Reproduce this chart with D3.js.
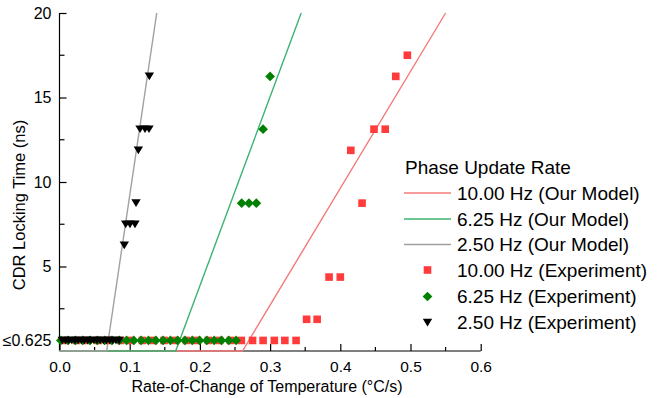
<!DOCTYPE html>
<html>
<head>
<meta charset="utf-8">
<script src="https://cdn.jsdelivr.net/npm/d3@7"></script>
<style>
  html, body { margin: 0; padding: 0; background: #fff; }
  svg { display: block; font-family: "Liberation Sans", Arial, sans-serif; }
</style>
</head>
<body>
<svg id="chart" width="659" height="398"></svg>
<script>
// ---------- data ----------
const xTickValues = [0, 0.1, 0.2, 0.3, 0.4, 0.5, 0.6];
const xTickLabels = ["0.0", "0.1", "0.2", "0.3", "0.4", "0.5", "0.6"];
const xMinorTicks = [0.05, 0.15, 0.25, 0.35, 0.45, 0.55];
const yTickValues = [0.625, 5, 10, 15, 20];
const yTickLabels = ["≤0.625", "5", "10", "15", "20"];
const yMinorTicks = [2.5, 7.5, 12.5, 17.5];

// model lines: [rate, locking time]
const model10 = [[0, 0], [0.2607, 0], [0.550, 20]];
const model625 = [[0, 0], [0.1655, 0], [0.3443, 20]];
const model250 = [[0, 0], [0.0672, 0], [0.1385, 20]];

// experiment 10.00 Hz
const exp10X = [0.008, 0.024, 0.039, 0.055, 0.071, 0.087, 0.102, 0.118, 0.134, 0.149, 0.165, 0.181,
  0.196, 0.212, 0.228, 0.2435, 0.259, 0.275, 0.290, 0.306, 0.321, 0.337,
  0.352, 0.367, 0.384, 0.400, 0.415, 0.431, 0.448, 0.464, 0.479, 0.4955];
const exp10Y = [0.625, 0.625, 0.625, 0.625, 0.625, 0.625, 0.625, 0.625, 0.625, 0.625, 0.625, 0.625,
  0.625, 0.625, 0.625, 0.625, 0.625, 0.625, 0.625, 0.625, 0.625, 0.625,
  1.875, 1.875, 4.375, 4.375, 11.875, 8.75, 13.125, 13.125, 16.25, 17.5];

// experiment 6.25 Hz
const exp625X = [0.0019, 0.0123, 0.0227, 0.0331, 0.0435, 0.0539, 0.0643, 0.0747, 0.0851,
  0.0955, 0.1059, 0.1163, 0.1267, 0.1371, 0.1475, 0.1579, 0.1683, 0.1787, 0.1891,
  0.1995, 0.2099, 0.2203, 0.2307, 0.2411, 0.2515, 0.2595, 0.2699, 0.2804, 0.290, 0.300];
const exp625Y = [0.625, 0.625, 0.625, 0.625, 0.625, 0.625, 0.625, 0.625, 0.625,
  0.625, 0.625, 0.625, 0.625, 0.625, 0.625, 0.625, 0.625, 0.625, 0.625,
  0.625, 0.625, 0.625, 0.625, 0.625, 0.625, 8.75, 8.75, 8.75, 13.125, 16.25];

// experiment 2.50 Hz
const exp250X = [0.004, 0.0085, 0.013, 0.0175, 0.022, 0.0265, 0.031, 0.0355, 0.040, 0.0445,
  0.049, 0.0535, 0.058, 0.0625, 0.067, 0.0715, 0.076, 0.0805, 0.085,
  0.0923, 0.0943, 0.1004, 0.1075, 0.109, 0.1123, 0.1147, 0.1218, 0.1275, 0.128];
const exp250Y = [0.625, 0.625, 0.625, 0.625, 0.625, 0.625, 0.625, 0.625, 0.625, 0.625,
  0.625, 0.625, 0.625, 0.625, 0.625, 0.625, 0.625, 0.625, 0.625,
  6.25, 7.5, 7.5, 7.5, 8.75, 11.875, 13.125, 13.125, 13.125, 16.25];

const legendTitle = "Phase Update Rate";
const legendLabels = ["10.00 Hz (Our Model)", "6.25 Hz (Our Model)", "2.50 Hz (Our Model)",
  "10.00 Hz (Experiment)", "6.25 Hz (Experiment)", "2.50 Hz (Experiment)"];

// ---------- styles ----------
const C = {
  red: "#f47a7a", green: "#3cb371", gray: "#a0a0a0",
  redM: "#ff3b3b", greenM: "#008000", blackM: "#000"
};

const svg = d3.select("#chart");
const x = d3.scaleLinear().domain([0, 0.6]).range([59.5, 480.7]);
const y = d3.scaleLinear().domain([0, 20]).range([351, 13]);

// ---------- axes ----------
const gx = svg.append("g").attr("transform", `translate(0,${y(0)})`)
  .call(d3.axisBottom(x).tickValues(xTickValues).tickFormat((d, i) => xTickLabels[i])
    .tickSize(-7).tickPadding(10));
gx.call(g => g.select(".domain").attr("d", `M${x(0)},0H${x(0.6)}`).attr("stroke", "#000").attr("stroke-width", 1.2));
gx.selectAll(".tick line").attr("stroke", "#000").attr("stroke-width", 1.2);
gx.selectAll("text").attr("font-size", 15.5).attr("fill", "#000").attr("font-family", "Liberation Sans, Arial, sans-serif");
svg.append("g").attr("transform", `translate(0,${y(0)})`)
  .selectAll("line").data(xMinorTicks).join("line")
  .attr("x1", d => x(d)).attr("x2", d => x(d)).attr("y1", 0).attr("y2", -4)
  .attr("stroke", "#000").attr("stroke-width", 1.2);

const gy = svg.append("g").attr("transform", `translate(${x(0)},0)`)
  .call(d3.axisLeft(y).tickValues(yTickValues).tickFormat((d, i) => yTickLabels[i])
    .tickSize(-7).tickPadding(8));
gy.call(g => g.select(".domain").attr("d", `M0,${y(20)}V${y(0)}`).attr("stroke", "#000").attr("stroke-width", 1.2));
gy.selectAll(".tick line").attr("stroke", "#000").attr("stroke-width", 1.2);
gy.selectAll("text").attr("font-size", 16).attr("fill", "#000").attr("font-family", "Liberation Sans, Arial, sans-serif");
svg.append("g").attr("transform", `translate(${x(0)},0)`)
  .selectAll("line").data(yMinorTicks).join("line")
  .attr("y1", d => y(d)).attr("y2", d => y(d)).attr("x1", 0).attr("x2", 5)
  .attr("stroke", "#000").attr("stroke-width", 1.2);

svg.append("text").attr("x", 267).attr("y", 392).attr("text-anchor", "middle")
  .attr("font-size", 16).text("Rate-of-Change of Temperature (°C/s)");
svg.append("text").attr("transform", "translate(25,205) rotate(-90)").attr("text-anchor", "middle")
  .attr("font-size", 16.5).text("CDR Locking Time (ns)");

// ---------- model lines ----------
const line = d3.line().x(d => x(d[0])).y(d => y(d[1]));
[[model10, C.red], [model625, C.green], [model250, C.gray]].forEach(([data, col]) => {
  svg.append("path").datum(data).attr("d", line).attr("fill", "none")
    .attr("stroke", col).attr("stroke-width", 1.4);
});

// ---------- markers ----------
const squarePath = d3.symbol().type(d3.symbolSquare).size(58)();
const diamondPath = d3.symbol().type(d3.symbolSquare).size(47)();
const triPath = "M-4.7,-3.8L4.7,-3.8L0,3.9Z";

function drawPoints(xs, ys, path, col, rot) {
  svg.append("g").selectAll("path").data(xs.map((v, i) => [v, ys[i]])).join("path")
    .attr("d", path)
    .attr("transform", d => `translate(${x(d[0])},${y(d[1])}) rotate(${rot})`)
    .attr("fill", col);
}
drawPoints(exp10X, exp10Y, squarePath, C.redM, 0);
drawPoints(exp625X, exp625Y, diamondPath, C.greenM, 45);
drawPoints(exp250X, exp250Y, triPath, C.blackM, 0);

// ---------- legend ----------
const lg = svg.append("g").attr("font-size", 19);
lg.append("text").attr("x", 405).attr("y", 174).text(legendTitle);
const rowY = [193, 219, 244.5, 270, 296.5, 322.5];
legendLabels.forEach((lab, i) => {
  const yy = rowY[i];
  if (i < 3) {
    lg.append("line").attr("x1", 404).attr("x2", 451).attr("y1", yy).attr("y2", yy)
      .attr("stroke", [C.red, C.green, C.gray][i]).attr("stroke-width", 1.4);
  } else {
    lg.append("path").attr("d", [squarePath, diamondPath, triPath][i - 3])
      .attr("transform", `translate(427.5,${yy}) rotate(${i === 4 ? 45 : 0})`)
      .attr("fill", [C.redM, C.greenM, C.blackM][i - 3]);
  }
  lg.append("text").attr("x", 457).attr("y", yy).attr("dy", "0.36em").text(lab);
});
</script>
</body>
</html>
